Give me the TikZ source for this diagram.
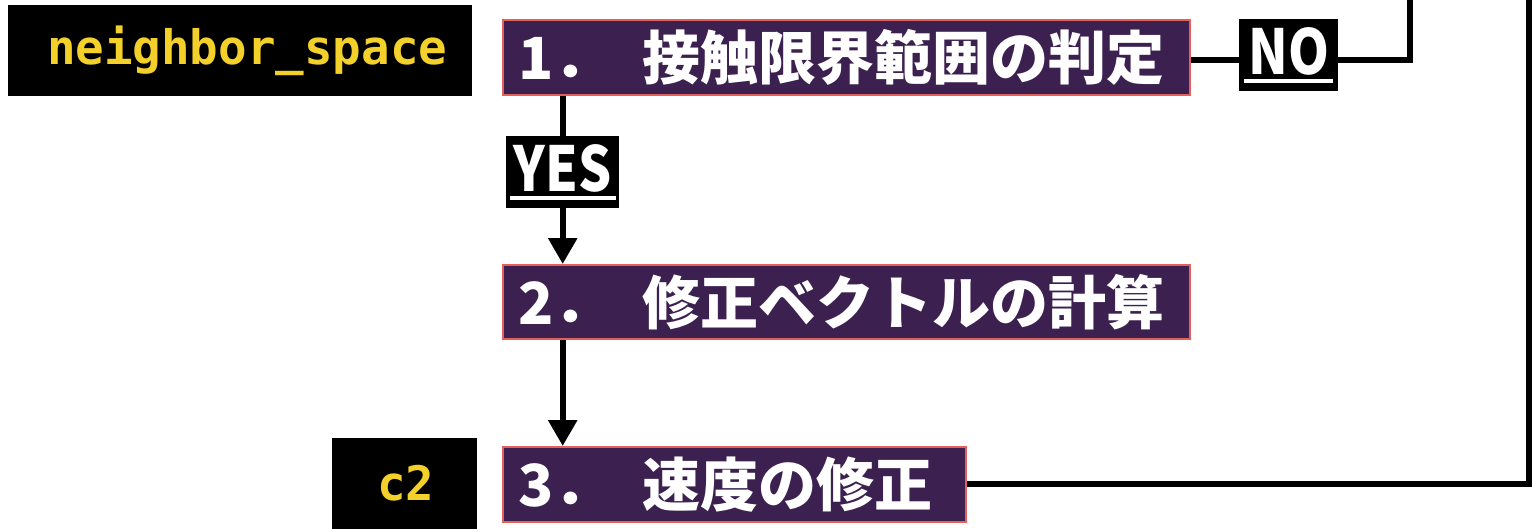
\documentclass[tikz,border=0pt]{standalone}
\usepackage{fontspec}
\newfontfamily\jpfont{Noto Sans CJK JP}
\newfontfamily\lblfont{Noto Sans CJK JP}[FakeStretch=0.84]
\newfontfamily\codefont{DejaVu Sans Mono}
\usetikzlibrary{arrows.meta}
\definecolor{boxfill}{HTML}{3C2050}
\definecolor{boxborder}{HTML}{E4605C}
\definecolor{codeyellow}{HTML}{F4D02A}
\newcommand\lblul[1]{\setbox0\hbox{#1}\rlap{\hspace{-4pt}\rule[-8pt]{\dimexpr\wd0+8pt\relax}{3.2pt}}\box0}
\tikzset{
  stepbox/.style={draw=boxborder, line width=2pt, fill=boxfill, text=white,
    font=\jpfont\bfseries\fontsize{58}{58}\selectfont, inner xsep=15pt, inner ysep=0pt,
    anchor=north west, align=left},
  codebox/.style={fill=black, text=codeyellow,
    font=\codefont\bfseries\fontsize{47.5}{47.5}\selectfont, inner sep=0pt, anchor=north west},
  labelbox/.style={fill=black, text=white,
    font=\lblfont\bfseries\fontsize{62}{62}\selectfont, inner sep=0pt, anchor=north west},
  conn/.style={line width=6pt, draw=black},
  arrowconn/.style={conn, -{Triangle[length=26pt,width=28pt]}}
}
\begin{document}
\begin{tikzpicture}[x=1pt,y=-1pt]
\useasboundingbox (0,0) rectangle (1532,532);
% nodes
\node[codebox, minimum width=464pt, minimum height=91pt] (ns) at (8,5) {\hspace*{14pt}neighbor\_space};
\node[codebox, minimum width=145pt, minimum height=91pt] (c2) at (332,438) {\hspace*{2pt}c2};
\node[stepbox, minimum width=687pt, minimum height=75pt, text width=657pt] (s1) at (502,19) {\mbox{1．\kern31pt 接触限界範囲の判定}};
\node[stepbox, minimum width=687pt, minimum height=74pt, text width=657pt] (s2) at (502,264) {\mbox{2．\kern31pt 修正ベクトルの計算}};
\node[stepbox, minimum width=463pt, minimum height=75pt, text width=433pt] (s3) at (502,446) {\mbox{3．\kern31pt 速度の修正}};
\node[labelbox, minimum width=113pt, minimum height=72pt] (yes) at (506,136) {\lblul{YES}};
\node[labelbox, minimum width=99pt, minimum height=72pt] (no) at (1239,19) {\lblul{NO}};
\coordinate (noCorner) at (1410,60);
\coordinate (noTop) at (1410,-10);
\coordinate (c3Corner) at (1529,484);
\coordinate (c3Top) at (1529,-10);
% connectors
\draw[conn] (s1.south -| yes.north) -- (yes.north);
\draw[arrowconn] (yes.south) -- (s2.north -| yes.south);
\draw[arrowconn] (s2.south -| yes.south) -- (s3.north -| yes.south);
\draw[conn] (s1.east |- noCorner) -- (no.west |- noCorner);
\draw[conn] (no.east |- noCorner) -- (noCorner) -- (noTop);
\draw[conn] (s3.east |- c3Corner) -- (c3Corner) -- (c3Top);
\end{tikzpicture}
\end{document}
